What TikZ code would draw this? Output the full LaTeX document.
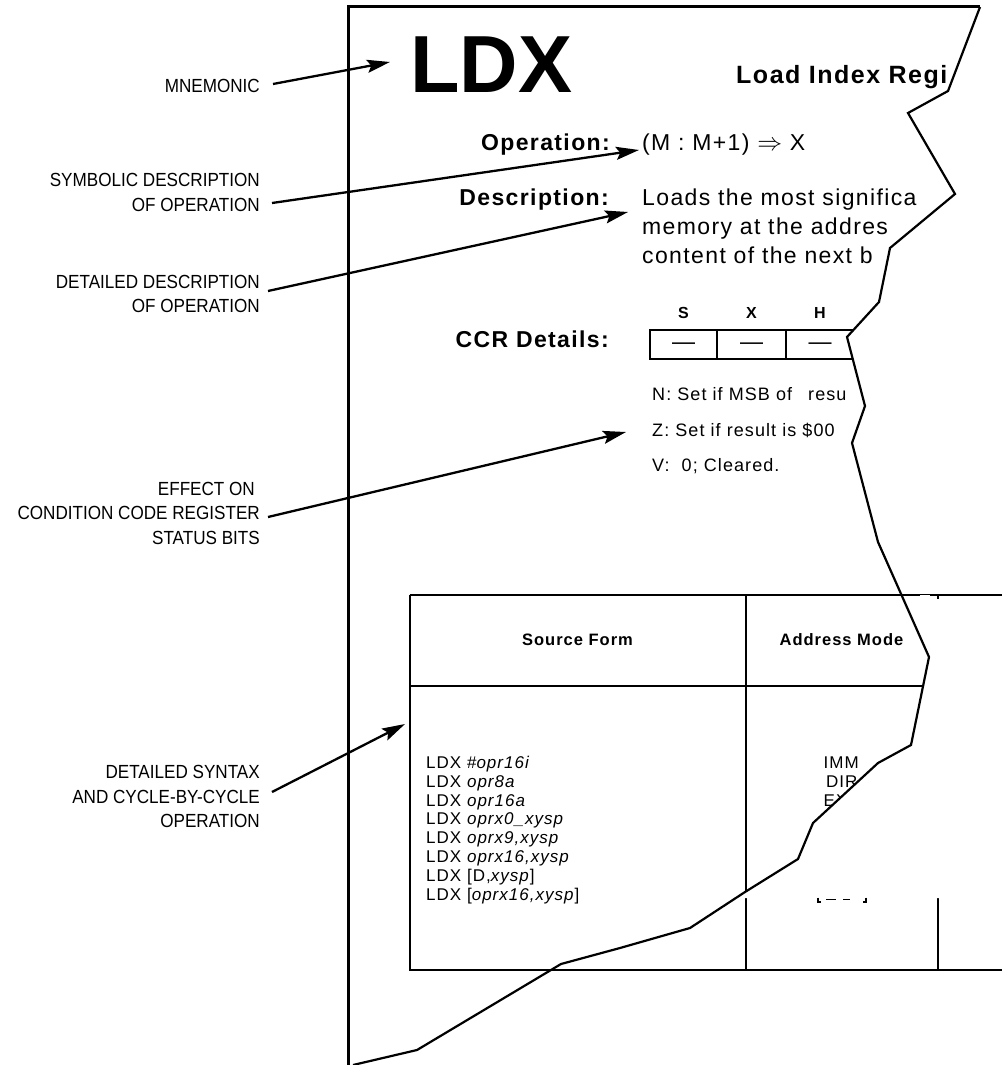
\documentclass[tikz,border=0pt]{standalone}
\usepackage{fontspec}
\setmainfont{Liberation Sans}
\newfontfamily\lblfont{Liberation Sans}[FakeStretch=0.9]
\newfontfamily\bodyfont{Liberation Sans}[LetterSpace=6]
\usetikzlibrary{arrows.meta}
\begin{document}
\begin{tikzpicture}[x=1pt,y=-1pt,
  lbl/.style={font={\lblfont\fontsize{19}{24.5}\selectfont}, align=right, anchor=east, inner sep=0pt},
  callout/.style={line width=2.3pt, -{Stealth[length=23pt,width=13pt,inset=4pt]}},
  pageline/.style={line width=3pt},
  tearline/.style={line width=2.2pt, line join=miter},
  tbl/.style={line width=2pt},
  ccrbox/.style={line width=2.5pt},
  bigb/.style={font={\bodyfont\bfseries\fontsize{23}{27}\selectfont}, inner sep=0pt},
  body/.style={font={\bodyfont\fontsize{23}{27}\selectfont}, inner sep=0pt, anchor=base west},
  flag/.style={font={\bodyfont\bfseries\fontsize{16}{18}\selectfont}, inner sep=0pt, anchor=base},
  dashmark/.style={font={\fontsize{23}{26}\selectfont}, inner sep=0pt, anchor=base},
  ccrtxt/.style={font={\bodyfont\fontsize{18}{20}\selectfont}, inner sep=0pt, anchor=base west},
  thead/.style={font={\bodyfont\bfseries\fontsize{16.5}{18}\selectfont}, inner sep=0pt},
  tcell/.style={font={\bodyfont\fontsize{17}{18.8}\selectfont}, inner sep=0pt, anchor=base west}
]
\useasboundingbox (0,0) rectangle (1002,1065);

% ---- callout labels ----
\node[lbl] (mnem) at (260,86) {MNEMONIC};
\node[lbl] (symb) at (260,192.5) {SYMBOLIC DESCRIPTION\\OF OPERATION};
\node[lbl] (detd) at (260,294) {DETAILED DESCRIPTION\\OF OPERATION};
\node[lbl] (ccrl) at (260,513) {EFFECT ON\kern5pt\\CONDITION CODE REGISTER\\STATUS BITS};
\node[lbl] (synl) at (260,796.7) {DETAILED SYNTAX\\AND CYCLE-BY-CYCLE\\OPERATION};

% ---- page border ----
\coordinate (pgB) at (348.5,1065);
\coordinate (pgTL) at (348.5,7);
\coordinate (pgTR) at (980,7);
\draw[pageline] (pgB) -- (pgTL) -- (pgTR);

% ---- page contents ----
\node[anchor=base west, inner sep=0pt, font={\bfseries\fontsize{81}{90}\selectfont}] (ldx) at (410,92.7) {LDX};
\node[anchor=base west, inner sep=0pt, font={\bodyfont\bfseries\fontsize{25}{28}\selectfont}] (title) at (736,84) {Load Index Regi};

\node[bigb, anchor=base east] (oplbl) at (610,150) {Operation:};
\node[body] (optxt) at (642,150) {(M : M+1) $\Rightarrow$ X};

\node[bigb, anchor=base east] (desclbl) at (609,205) {Description:};
\node[body] (d1) at (642,205) {Loads the most significa};
\node[body] (d2) at (642,234) {memory at the addres};
\node[body] (d3) at (642,263) {content of the next b};

\node[bigb, anchor=base east] (ccrlbl) at (609,347) {CCR Details:};
\node[flag] (fS) at (683.5,318) {S};
\node[flag] (fX) at (751.5,318) {X};
\node[flag] (fH) at (820,318) {H};
\draw[ccrbox] (900,330) -- (650,330) -- (650,359) -- (900,359);
\draw[ccrbox] (717,330) -- (717,359);
\draw[ccrbox] (786,330) -- (786,359);
\draw[ccrbox] (854,330) -- (854,359);
\node[dashmark] (dS) at (683.5,349) {—};
\node[dashmark] (dX) at (751.5,349) {—};
\node[dashmark] (dH) at (820,349) {—};

\node[ccrtxt] (nbit) at (652,400) {N: Set if MSB of\hspace{10pt} resu};
\node[ccrtxt] (zbit) at (652,436) {Z: Set if result is \$00};
\node[ccrtxt] (vbit) at (652,471) {V:\hspace{6pt} 0; Cleared.};

% ---- table ----
\draw[tbl] (409.5,595) -- (409.5,970) -- (1002,970);
\draw[tbl] (409.5,686) -- (1002,686);
\draw[tbl] (746,595) -- (746,970);
\draw[tbl] (937.5,595) -- (937.5,970);
\node[thead] (hsrc) at (577.5,640) {Source Form};
\node[thead] (hadr) at (841.5,640) {Address Mode};
\foreach \txt [count=\i] in {{LDX \#\textit{opr16i}},{LDX \textit{opr8a}},{LDX \textit{opr16a}},{LDX \textit{oprx0\_xysp}},{LDX \textit{oprx9,xysp}},{LDX \textit{oprx16,xysp}},{LDX [D,\textit{xysp}]},{LDX [\textit{oprx16,xysp}]}}
  \node[tcell] (src\i) at (426,{768.5+18.8*(\i-1)}) {\txt};
\node[tcell] (amIMM) at (823.5,768.5) {IMM};
\node[tcell] (amDIR) at (826,787.3) {DIR};
\node[tcell] (amEXT) at (823.5,806.1) {EX};

% ---- torn edge mask ----
\fill[white] (980,-5) -- (980,7) -- (948,91) -- (908,113) -- (955,194) -- (890,248) -- (879,302) -- (847,337) -- (865,406) -- (852,443) -- (878,542) -- (929,657) -- (911,745) -- (878,763) -- (813,823) -- (798,859) -- (745,892) -- (736,898) -- (1010,898) -- (1010,-5) -- cycle;

% items showing past the tear
\draw[tbl] (409.5,595) -- (1002,595);
\draw[white, line width=1pt] (920,595.5) -- (930,595.5);
\draw[tbl] (937.5,595) -- (937.5,599);
\draw[line width=1.3pt] (818,897.5) -- (818,902) -- (821,902);
\draw[line width=1.3pt] (866,897.5) -- (866,902) -- (863,902);
\draw[line width=1.3pt] (826,899.5) -- (836,899.5);
\draw[line width=1.3pt] (843,899.5) -- (850,899.5);

% tear line
\coordinate (t0) at (980,7);
\coordinate (tEnd) at (353,1065);
\draw[tearline] (t0) -- (948,91) -- (908,113) -- (955,194) -- (890,248) -- (879,302) -- (847,337) -- (865,406) -- (852,443) -- (878,542) -- (929,657) -- (911,745) -- (878,763) -- (813,823) -- (798,859) -- (745,892) -- (690,928) -- (620,948) -- (561,964) -- (417,1050) -- (tEnd);

% ---- callout arrows ----
\coordinate (mnemA) at (273,84);  \coordinate (mnemB) at (390,62);
\coordinate (symbA) at (272,203); \coordinate (symbB) at (639,150);
\coordinate (detdA) at (268,291); \coordinate (detdB) at (628,212);
\coordinate (ccrA) at (268,517);  \coordinate (ccrB) at (626,432);
\coordinate (synA) at (272,792);  \coordinate (synB) at (405,724);
\draw[callout] (mnemA) -- (mnemB);
\draw[callout] (symbA) -- (symbB);
\draw[callout] (detdA) -- (detdB);
\draw[callout] (ccrA) -- (ccrB);
\draw[callout] (synA) -- (synB);
\end{tikzpicture}
\end{document}
